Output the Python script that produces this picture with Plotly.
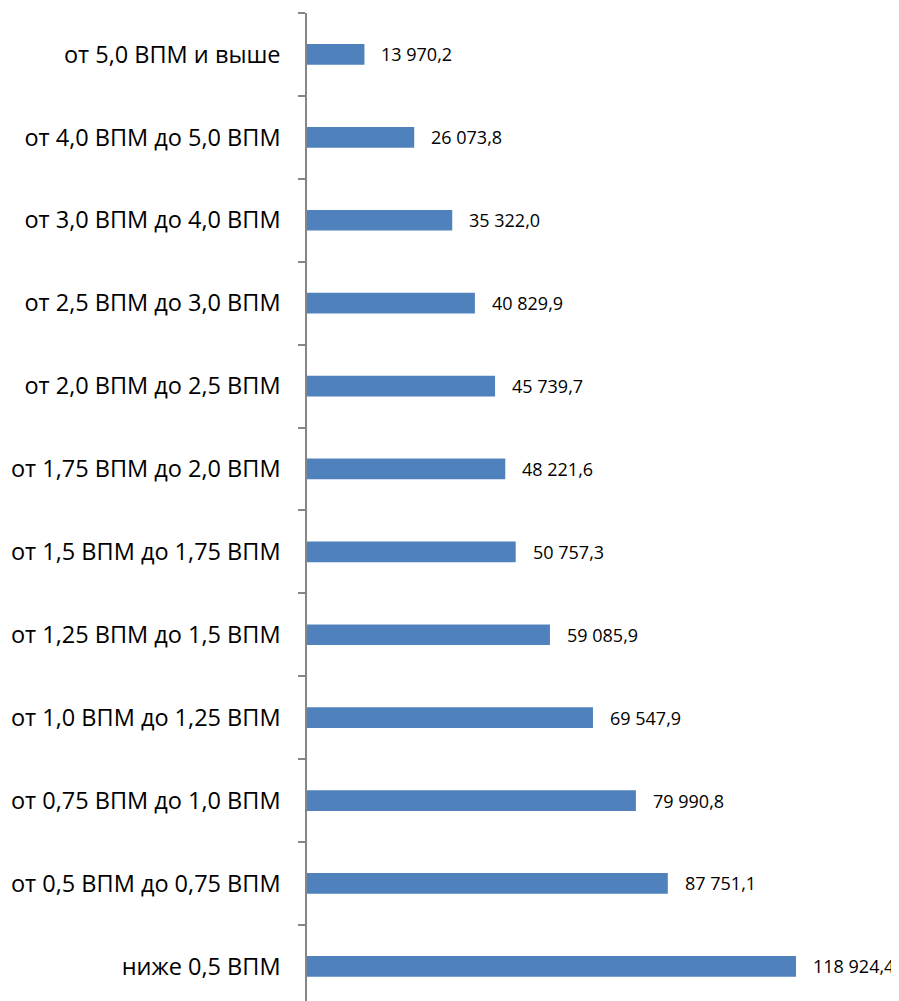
import plotly.graph_objects as go

categories = [
    "ниже 0,5 ВПМ",
    "от 0,5 ВПМ до 0,75 ВПМ",
    "от 0,75 ВПМ до 1,0 ВПМ",
    "от 1,0 ВПМ до 1,25 ВПМ",
    "от 1,25 ВПМ до 1,5 ВПМ",
    "от 1,5 ВПМ до 1,75 ВПМ",
    "от 1,75 ВПМ до 2,0 ВПМ",
    "от 2,0 ВПМ до 2,5 ВПМ",
    "от 2,5 ВПМ до 3,0 ВПМ",
    "от 3,0 ВПМ до 4,0 ВПМ",
    "от 4,0 ВПМ до 5,0 ВПМ",
    "от 5,0 ВПМ и выше",
]
values = [118924.4, 87751.1, 79990.8, 69547.9, 59085.9, 50757.3,
          48221.6, 45739.7, 40829.9, 35322.0, 26073.8, 13970.2]
value_labels = ["118 924,4", "87 751,1", "79 990,8", "69 547,9", "59 085,9", "50 757,3",
                "48 221,6", "45 739,7", "40 829,9", "35 322,0", "26 073,8", "13 970,2"]

FONT = "Open Sans"

fig = go.Figure(go.Bar(
    x=values, y=categories, orientation="h",
    marker=dict(color="#4F81BD", line=dict(width=0)),
    width=0.25,
))

for v, c, t in zip(values, categories, value_labels):
    fig.add_annotation(x=v, y=c, text=t, showarrow=False, xanchor="left",
                       xshift=15, font=dict(family=FONT, size=18, color="#000000"))

fig.update_layout(
    width=891, height=993,
    margin=dict(l=299, r=0, t=5, b=0),
    plot_bgcolor="white", paper_bgcolor="white",
    showlegend=False,
    xaxis=dict(range=[0, 143976], visible=False, fixedrange=True),
    yaxis=dict(
        type="category", range=[-0.418, 11.5],
        showline=True, linecolor="#868686", linewidth=1.5,
        ticks="outside", tickson="boundaries", ticklen=7, tickwidth=1.5,
        tickcolor="#868686", showgrid=False,
        tickfont=dict(family=FONT, size=23.5, color="#000000"),
        ticklabelstandoff=20,
    ),
)

fig.write_html("out.html")
